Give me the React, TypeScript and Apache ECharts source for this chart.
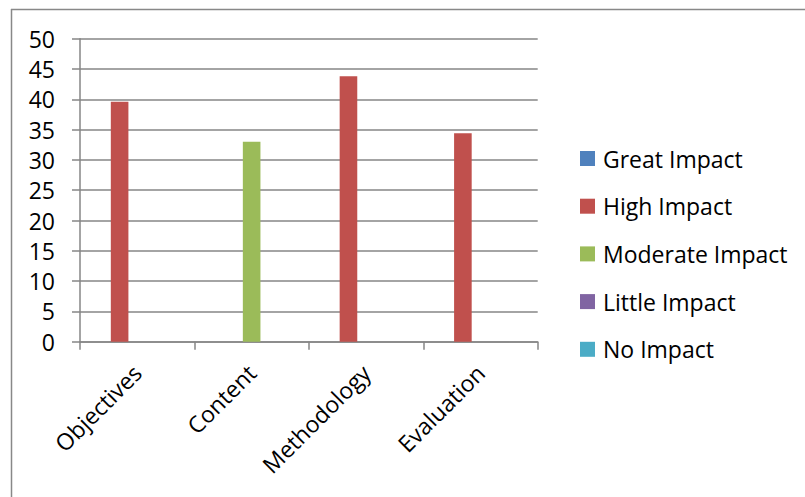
import React, { useEffect, useRef } from "react";
import * as echarts from "echarts";

const categories = ["Objectives", "Content", "Methodology", "Evaluation"];
const seriesNames = ["Great Impact", "High Impact", "Moderate Impact", "Little Impact", "No Impact"];
const greatImpact = [0, 0, 0, 0];
const highImpact = [39.6, 0, 43.8, 34.4];
const moderateImpact = [0, 33.0, 0, 0];
const littleImpact = [0, 0, 0, 0];
const noImpact = [0, 0, 0, 0];
const colors = ["#4F81BD", "#C0504D", "#9BBB59", "#8064A2", "#4BACC6"];

const FONT = "'Open Sans', 'Noto Sans', sans-serif";

export default function App() {
  const ref = useRef<HTMLDivElement>(null);
  useEffect(() => {
    if (!ref.current) return;
    const chart = echarts.init(ref.current, null, { renderer: "svg" });
    const values = [greatImpact, highImpact, moderateImpact, littleImpact, noImpact];
    chart.setOption({
      animation: false,
      backgroundColor: "#ffffff",
      color: colors,
      textStyle: { fontFamily: FONT },
      grid: { left: 80, top: 38.7, right: 267.3, bottom: 155.3 },
      legend: {
        orient: "vertical",
        left: 575,
        top: 142,
        itemWidth: 15,
        itemHeight: 15,
        itemGap: 24.7,
        icon: "rect",
        textStyle: { fontSize: 23, lineHeight: 23, color: "#000", fontFamily: FONT, padding: [0, 0, 0, 3] },
        data: seriesNames,
      },
      xAxis: {
        type: "category",
        data: categories,
        axisLine: { lineStyle: { color: "#868686", width: 1.5 } },
        axisTick: { show: true, length: 8, lineStyle: { color: "#868686", width: 1.5 } },
        axisLabel: { rotate: 45, fontSize: 23, color: "#000", margin: 27, fontFamily: FONT },
      },
      yAxis: {
        type: "value",
        min: 0,
        max: 50,
        interval: 5,
        axisLine: { show: true, lineStyle: { color: "#868686", width: 1.5 } },
        axisTick: { show: true, length: 8, inside: false, lineStyle: { color: "#868686", width: 1.5 } },
        axisLabel: { fontSize: 23, color: "#000", margin: 25, fontFamily: FONT },
        splitLine: { show: true, lineStyle: { color: "#868686", width: 1.5 } },
      },
      series: seriesNames.map((name, i) => ({
        name,
        type: "bar",
        data: values[i],
        barWidth: 17.6,
        barGap: "0%",
        itemStyle: { color: colors[i] },
      })),
      graphic: [
        { type: "line", shape: { x1: 11, y1: 9.5, x2: 805, y2: 9.5 }, style: { stroke: "#888", lineWidth: 1.5 } },
        { type: "line", shape: { x1: 11.5, y1: 9, x2: 11.5, y2: 497 }, style: { stroke: "#888", lineWidth: 1.5 } },
      ],
    });
    return () => chart.dispose();
  }, []);
  return <div ref={ref} style={{ position: "fixed", left: 0, top: 0, width: 805, height: 497 }} />;
}
